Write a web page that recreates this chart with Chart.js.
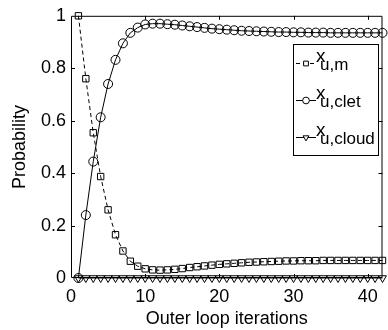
<!DOCTYPE html>
<html>
<head>
<meta charset="utf-8">
<script src="https://cdn.jsdelivr.net/npm/chart.js@4.4.0/dist/chart.umd.min.js"></script>
<style>
  html, body { margin: 0; padding: 0; background: #fff; }
  #wrap { width: 388px; height: 330px; }
</style>
</head>
<body>
<div id="wrap"><canvas id="chartProb" width="388" height="330"></canvas></div>
<script>
// outer loop iteration index
const iterations = [1, 2, 3, 4, 5, 6, 7, 8, 9, 10, 11, 12, 13, 14, 15, 16, 17, 18, 19, 20, 21,
  22, 23, 24, 25, 26, 27, 28, 29, 30, 31, 32, 33, 34, 35, 36, 37, 38, 39, 40, 41, 42];

const probM = [1.0, 0.76, 0.554, 0.387, 0.26, 0.165, 0.103, 0.064, 0.045, 0.035, 0.031, 0.030, 0.031,
  0.033, 0.036, 0.040, 0.043, 0.046, 0.049, 0.052, 0.054, 0.056, 0.058, 0.060, 0.061, 0.062, 0.063,
  0.064, 0.065, 0.065, 0.066, 0.066, 0.066, 0.067, 0.067, 0.067, 0.067, 0.067, 0.067, 0.067, 0.067, 0.067];

const probClet = [0, 0.24, 0.444, 0.613, 0.74, 0.832, 0.895, 0.935, 0.955, 0.967, 0.970, 0.970, 0.968,
  0.966, 0.963, 0.960, 0.957, 0.954, 0.951, 0.949, 0.947, 0.945, 0.943, 0.942, 0.941, 0.940, 0.939,
  0.938, 0.938, 0.937, 0.937, 0.936, 0.936, 0.936, 0.935, 0.935, 0.935, 0.935, 0.935, 0.935, 0.935, 0.935];

const probCloud = [0, 0, 0, 0, 0, 0, 0, 0, 0, 0, 0, 0, 0, 0, 0, 0, 0, 0, 0, 0, 0,
  0, 0, 0, 0, 0, 0, 0, 0, 0, 0, 0, 0, 0, 0, 0, 0, 0, 0, 0, 0, 0];

const xTicks = [0, 10, 20, 30, 40];
const yTicks = [0, 0.2, 0.4, 0.6, 0.8, 1];
const legendSubs = ['u,m', 'u,clet', 'u,cloud'];

const FONT = 'Liberation Sans, Arial, sans-serif';

function pts(vals) {
  return vals.map((v, i) => ({ x: iterations[i], y: v }));
}

// boxed frame, inward ticks, and the legend with subscripts
const frameAndLegend = {
  id: 'frameAndLegend',
  afterDraw(chart) {
    const ctx = chart.ctx;
    const a = chart.chartArea;
    const xs = chart.scales.x, ys = chart.scales.y;
    ctx.save();
    ctx.strokeStyle = '#000';
    ctx.lineWidth = 1;
    ctx.beginPath();
    ctx.rect(a.left + 0.5, a.top + 0.5, a.right - a.left - 1, a.bottom - a.top - 1);
    ctx.stroke();
    ctx.beginPath();
    xTicks.forEach(t => {
      const px = Math.round(xs.getPixelForValue(t)) + 0.5;
      if (t === 0) return;
      ctx.moveTo(px, a.bottom); ctx.lineTo(px, a.bottom - 4);
      ctx.moveTo(px, a.top); ctx.lineTo(px, a.top + 4);
    });
    yTicks.forEach(t => {
      if (t === 0 || t === 1) return;
      const py = Math.round(ys.getPixelForValue(t)) + 0.5;
      ctx.moveTo(a.left, py); ctx.lineTo(a.left + 4, py);
      ctx.moveTo(a.right, py); ctx.lineTo(a.right - 4, py);
    });
    ctx.stroke();

    // legend
    const bx = 293, by = 44, bw = 85, bh = 111;
    ctx.fillStyle = '#fff';
    ctx.fillRect(bx, by, bw, bh);
    ctx.strokeRect(bx + 0.5, by + 0.5, bw, bh);
    const rows = [63, 100, 137];
    chart.data.datasets.forEach((ds, i) => {
      const y = rows[i];
      ctx.strokeStyle = '#000';
      ctx.beginPath();
      ctx.setLineDash(ds.borderDash || []);
      ctx.moveTo(296, y + 0.5); ctx.lineTo(316, y + 0.5);
      ctx.stroke();
      ctx.setLineDash([]);
      ctx.fillStyle = '#fff';
      Chart.helpers.drawPoint(ctx, {
        pointStyle: ds.pointStyle, radius: ds.pointRadius * 0.75,
        rotation: ds.pointRotation || 0, borderWidth: 1
      }, 306, y + 0.5);
      ctx.fillStyle = '#000';
      ctx.textBaseline = 'alphabetic';
      ctx.textAlign = 'left';
      ctx.font = '19px ' + FONT;
      ctx.fillText('x', 316, y - 1);
      ctx.font = '17px ' + FONT;
      ctx.fillText(legendSubs[i], 320, y + 7);
    });
    ctx.restore();
  }
};

const ctxProb = document.getElementById('chartProb').getContext('2d');
new Chart(ctxProb, {
  type: 'line',
  data: {
    datasets: [{
      label: 'x_u,m',
      data: pts(probM),
      borderColor: '#000',
      borderWidth: 1,
      borderDash: [4, 3],
      pointStyle: 'rect',
      pointRadius: 4.5,
      pointBorderWidth: 1,
      pointBorderColor: '#000',
      pointBackgroundColor: 'rgba(0,0,0,0)',
      clip: 6
    }, {
      label: 'x_u,clet',
      data: pts(probClet),
      borderColor: '#000',
      borderWidth: 1,
      pointStyle: 'circle',
      pointRadius: 4.5,
      pointBorderWidth: 1,
      pointBorderColor: '#000',
      pointBackgroundColor: 'rgba(0,0,0,0)',
      clip: 6
    }, {
      label: 'x_u,cloud',
      data: pts(probCloud),
      borderColor: '#000',
      borderWidth: 1,
      pointStyle: 'triangle',
      pointRotation: 180,
      pointRadius: 4.5,
      pointBorderWidth: 1,
      pointBorderColor: '#000',
      pointBackgroundColor: 'rgba(0,0,0,0)',
      clip: 6
    }]
  },
  options: {
    responsive: false,
    animation: false,
    layout: { padding: { left: 0, right: 3, top: 12, bottom: 0 } },
    plugins: {
      legend: { display: false },
      tooltip: { enabled: false }
    },
    scales: {
      x: {
        type: 'linear',
        min: 0,
        max: 42,
        afterFit: s => { s.height = 52; },
        afterBuildTicks: s => { s.ticks = xTicks.map(v => ({ value: v })); },
        grid: { display: false, drawTicks: false },
        border: { display: false },
        ticks: { color: '#000', padding: 8, font: { family: FONT, size: 18 }, maxRotation: 0 },
        title: { display: true, text: 'Outer loop iterations', color: '#000',
          font: { family: FONT, size: 18 }, padding: { top: 0, bottom: 0 } }
      },
      y: {
        min: 0,
        max: 1,
        afterFit: s => { s.width = 71; },
        afterBuildTicks: s => { s.ticks = yTicks.map(v => ({ value: v })); },
        grid: { display: false, drawTicks: false },
        border: { display: false },
        ticks: { color: '#000', padding: 5, font: { family: FONT, size: 18 },
          callback: v => String(v) },
        title: { display: true, text: 'Probability', color: '#000',
          font: { family: FONT, size: 18 }, padding: { top: 9, bottom: 0 } }
      }
    }
  },
  plugins: [frameAndLegend]
});
</script>
</body>
</html>
